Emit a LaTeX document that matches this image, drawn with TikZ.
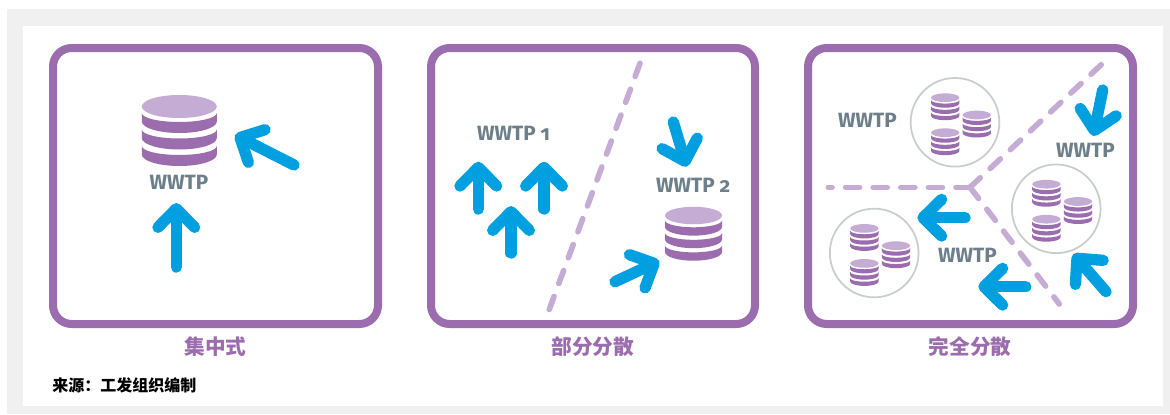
\documentclass[tikz,border=0pt]{standalone}
\usepackage{fontspec}
\usetikzlibrary{arrows.meta,calc}
\newfontfamily\cjkfont{Noto Sans CJK SC}
\newfontfamily\labelfont[Numbers=OldStyle]{Fira Sans}
\definecolor{framecol}{HTML}{9B6DAE}
\definecolor{lightcol}{HTML}{C5ACD4}
\definecolor{flowcol}{HTML}{009FDF}
\definecolor{textcol}{HTML}{6C7F8B}
\definecolor{pagecol}{HTML}{F0F0F0}
\definecolor{ringcol}{HTML}{C9CDCD}
\tikzset{
    panel/.style = {draw=framecol, line width=6pt, rounded corners=14pt},
    flow/.style = {draw=flowcol, line width=8.5pt, line cap=round,
        -{Straight Barb[round,length=14pt,width=27.5pt]}},
    split/.style = {draw=lightcol, line width=4.2pt, line cap=round, dash pattern=on 10.5pt off 10.2pt},
    wwtp/.style = {font=\labelfont\bfseries\fontsize{15.5}{15.5}\selectfont, text=textcol, inner sep=0pt},
    caption/.style = {font=\cjkfont\bfseries\fontsize{15.5}{15.5}\selectfont, text=framecol, inner sep=0pt},
    ring/.style = {draw=ringcol, circle, line width=1.3pt, minimum size=66.5pt, inner sep=0pt},
    dbstack/.pic = {
        \fill[lightcol] (0,0) ellipse [x radius=37.5, y radius=11.5];
        \foreach \k in {0,1,2} {
            \fill[framecol] ({-37.5},{6.5+16.5*\k}) -- ({-37.5},{15+16.5*\k})
                arc [start angle=180, end angle=0, x radius=37.5, y radius=11.5]
                -- ({37.5},{6.5+16.5*\k})
                arc [start angle=0, end angle=180, x radius=37.5, y radius=9]
                -- cycle;
        }
    }
}

\begin{document}
\begin{tikzpicture}[x=0.75pt,y=-0.75pt]
    \useasboundingbox (0,0) rectangle (1170,414);
    \fill[pagecol] (7,9) rectangle (1170,414);
    \fill[white] (23,26) rectangle (1163,406);

    % panels
    \draw[panel] (53,48) rectangle (378,324);
    \draw[panel] (431,48) rectangle (755,324);
    \draw[panel] (808,48) rectangle (1133,324);

    \node[caption] (cap1) at (215.5,347) {集中式};
    \node[caption] (cap2) at (592.7,347) {部分分散};
    \node[caption] (cap3) at (970,347) {完全分散};
    \node[anchor=west, inner sep=0pt, font=\cjkfont\bfseries\fontsize{12}{12}\selectfont] (src) at (52,385) {来源：工发组织编制};

    % dividing lines
    \coordinate (a1) at (640,63.3);
    \coordinate (a2) at (548.7,311);
    \coordinate (j) at (970,187.3);
    \coordinate (b1) at (1102.7,63.3);
    \coordinate (b2) at (828.3,187.3);
    \coordinate (b3) at (1059.3,304);
    \draw[split] (a1) -- (a2);
    \draw[split] (j) -- (b1);
    \draw[split] (j) -- (b2);
    \draw[split] (j) -- (b3);

    % plants
    \pic at (179.3,106.5) {dbstack};
    \pic[scale=0.76] at (693.5,215.5) {dbstack};
    \foreach \rname/\rx/\ry in {r1/955/122.3, r2/1056.2/208.8, r3/874.2/253} {
        \node[ring] (\rname) at (\rx,\ry) {};
        \pic[scale=0.378] at ($(\rname)+(-9.8,-24.6)$) {dbstack};
        \pic[scale=0.378] at ($(\rname)+(21.8,-7.3)$) {dbstack};
        \pic[scale=0.378] at ($(\rname)+(-9.8,10.4)$) {dbstack};
    }

    \node[wwtp] (w1) at (179,182.7) {WWTP};
    \node[wwtp] (w2) at (513.5,133) {WWTP 1};
    \node[wwtp] (w3) at (693.3,185) {WWTP 2};
    \node[wwtp] (w4) at (867.5,120.7) {WWTP};
    \node[wwtp] (w5) at (1085.5,150) {WWTP};
    \node[wwtp] (w6) at (967.5,255) {WWTP};

    % flows
    \foreach \tx/\ty/\hx/\hy in {
        176.3/267/176.3/203,
        294/165/235/135,
        478.3/209/478.3/161.7,
        544/209/544/161.7,
        511/253/511/206,
        673.3/122/686.7/166.7,
        615/281.7/659.3/261,
        1102.7/90/1093.3/136,
        965/217.7/917.3/217.7,
        1025.7/286.7/978.3/286.7,
        1106/291.7/1073.3/254} {
        \coordinate (t) at (\tx,\ty);
        \coordinate (h) at (\hx,\hy);
        \draw[flow] (t) -- (h);
    }
\end{tikzpicture}
\end{document}
